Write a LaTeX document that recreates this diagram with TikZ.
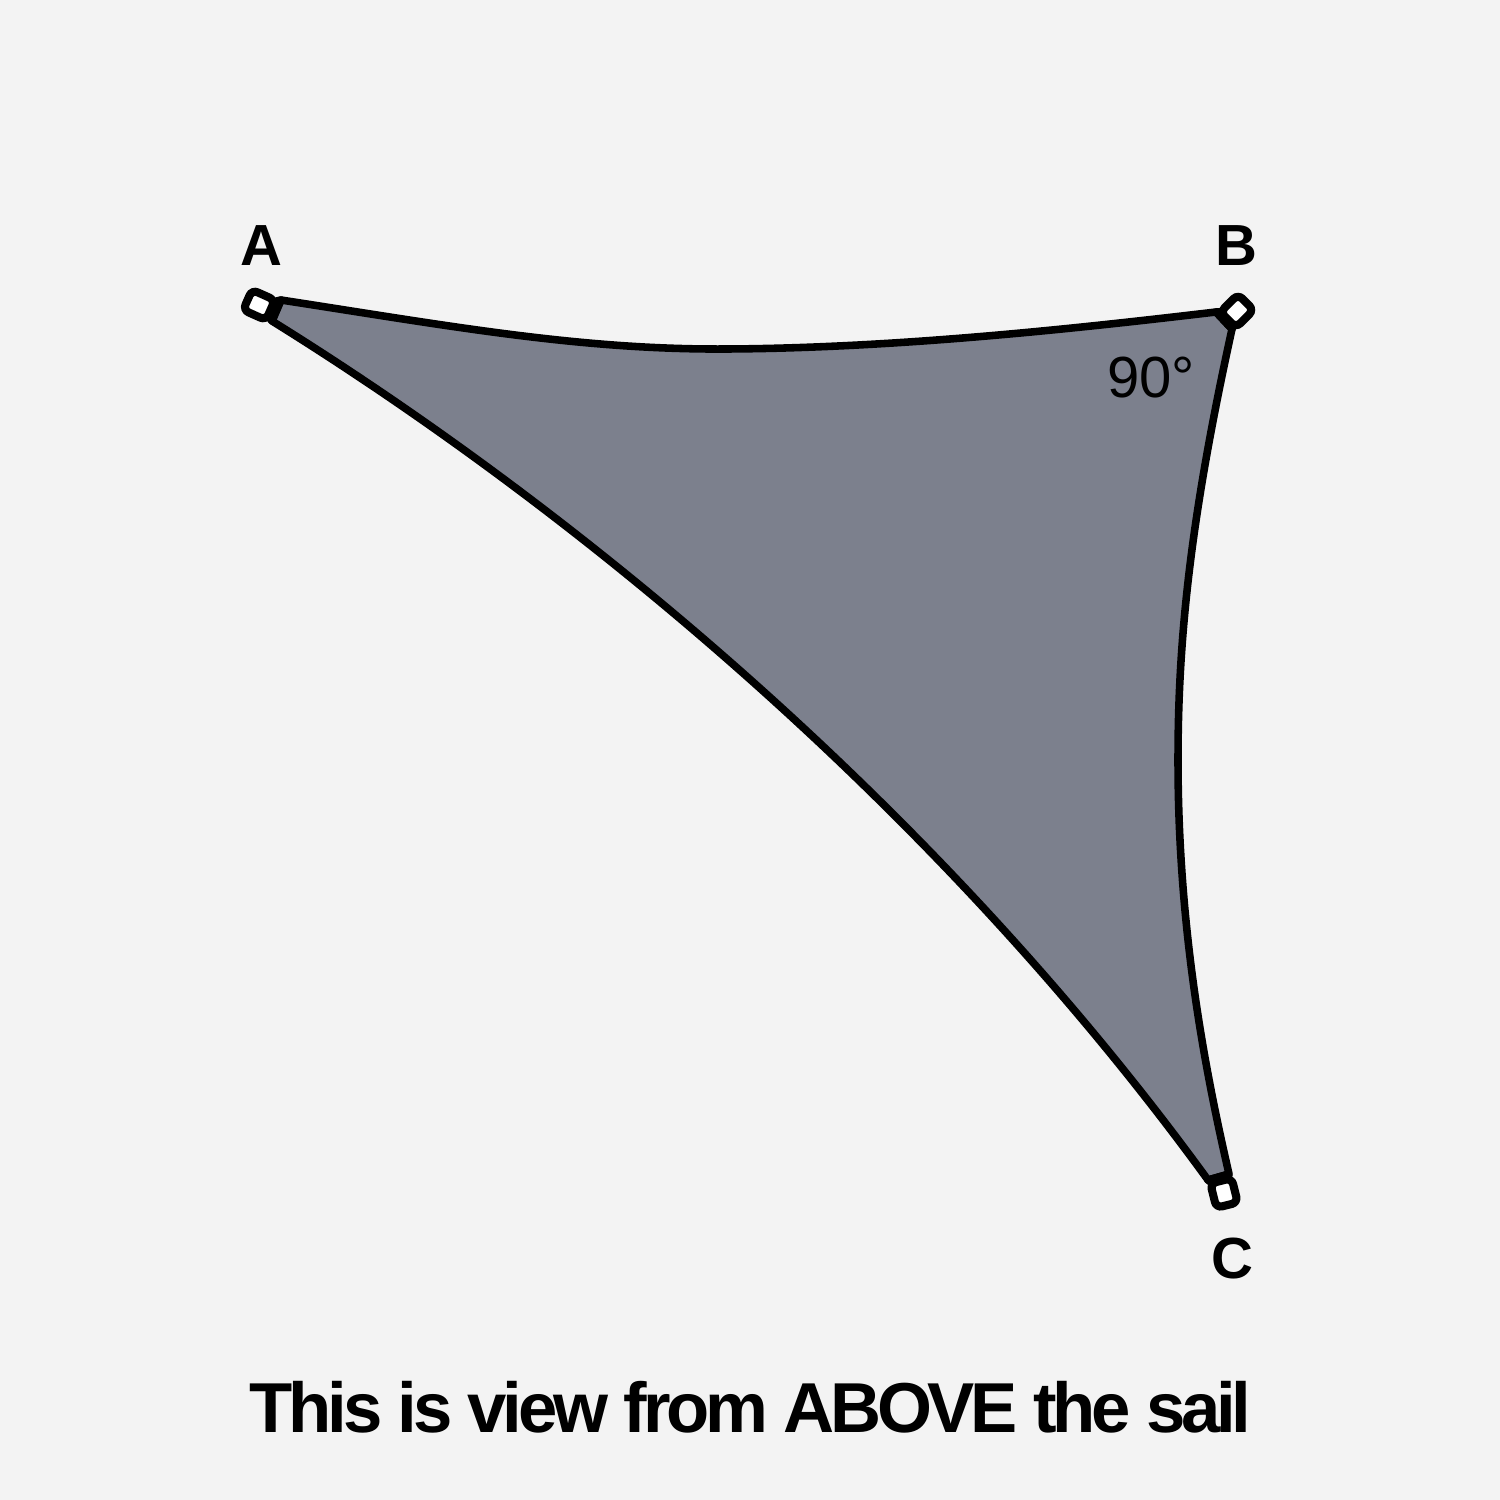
\documentclass[tikz,border=0pt]{standalone}
\usepackage{fontspec}
\setmainfont{Liberation Sans}
\newfontfamily\capfont[LetterSpace=-6]{Liberation Sans}
\definecolor{bgc}{HTML}{F3F3F3}
\definecolor{sailc}{HTML}{7C808D}
\begin{document}
\begin{tikzpicture}[x=0.01cm,y=-0.01cm,
  edge/.style={line width=2.15pt, line join=round, line cap=round},
  ringstyle/.style={line width=2.3pt, draw=black, fill=white, rounded corners=1.7pt},
  lbl/.style={anchor=base, inner sep=0pt, font=\fontsize{16.5}{18}\selectfont\bfseries},
  ang/.style={anchor=base, inner sep=0pt, font=\fontsize{16.5}{18}\selectfont},
  captext/.style={anchor=base, inner sep=0pt, font=\capfont\fontsize{20.1}{24}\selectfont\bfseries}]
\fill[bgc] (0,0) rectangle (1500,1500);
\useasboundingbox (0,0) rectangle (1500,1500);
% corner points of the sail cloth
\coordinate (A1) at (281,300);
\coordinate (A2) at (272,321);
\coordinate (B1) at (1216,312);
\coordinate (B2) at (1232,329);
\coordinate (C1) at (1229,1174);
\coordinate (C2) at (1208,1180);
\coordinate (RA) at (259,305);
\coordinate (RB) at (1237,311);
\coordinate (RC) at (1224,1193);
% sail
\filldraw[edge, fill=sailc, draw=black] (A1)
  .. controls (450,326) and (580,350) .. (727,349)
  .. controls (900,348) and (1080,328) .. (B1)
  -- (B2)
  .. controls (1190,520) and (1178,640) .. (1178,760)
  .. controls (1178,930) and (1205,1070) .. (C1)
  -- (C2)
  .. controls (950,825) and (600,525) .. (A2)
  -- cycle;
% straps
\filldraw[edge, fill=black] (A1) -- (A2) -- (RA) -- cycle;
\filldraw[edge, fill=black] (B1) -- (B2) -- (RB) -- cycle;
\filldraw[edge, fill=black] (C1) -- (C2) -- (RC) -- cycle;
% rings
\draw[ringstyle, shift={(RA)}, rotate=-24] (-12.5,-11) rectangle (12.5,11);
\draw[ringstyle, shift={(RB)}, rotate=45] (-12.5,-11) rectangle (12.5,11);
\draw[ringstyle, shift={(RC)}, rotate=-76] (-12.5,-11) rectangle (12.5,11);
% labels
\node[lbl] (la) at (261,265) {A};
\node[lbl] (lb) at (1236,265) {B};
\node[lbl] (lc) at (1232,1278) {C};
\node[ang] (l90) at (1151,397) {90°};
\node[captext] (caption) at (750.5,1432) {This is view from ABOVE the sail};
\end{tikzpicture}
\end{document}
